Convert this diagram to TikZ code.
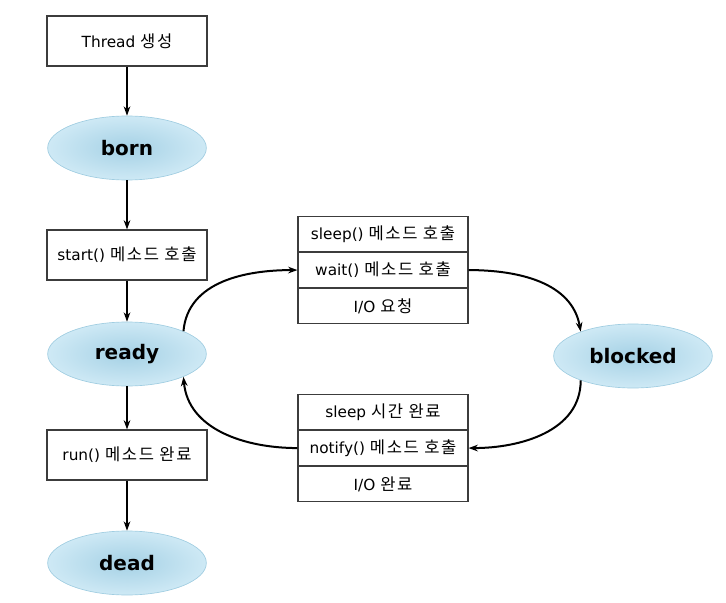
\documentclass[tikz,border=0pt]{standalone}
\usepackage{fontspec}
\setmainfont{DejaVu Sans}
\newfontfamily\kr[Scale=1.08,LetterSpace=10]{Noto Sans CJK KR}
\usetikzlibrary{arrows.meta,positioning,shapes.geometric}
\definecolor{elin}{RGB}{165,209,229}
\definecolor{elout}{RGB}{206,233,245}
\definecolor{elborder}{RGB}{160,205,225}
\definecolor{boxline}{RGB}{60,60,60}
\tikzset{
  txt/.style={font=\fontsize{11.5}{14}\selectfont},
  box/.style={txt,draw=boxline,line width=0.8pt,fill=white,minimum width=120pt,minimum height=37.5pt,inner sep=0pt},
  row/.style={txt,draw=boxline,line width=0.8pt,fill=white,minimum width=127.5pt,minimum height=26.25pt,inner sep=0pt},
  state/.style={ellipse,draw=elborder,line width=0.5pt,inner color=elin,outer color=elout,minimum width=119pt,minimum height=48pt,inner sep=0pt,font=\fontsize{15}{17}\selectfont\bfseries},
  arr/.style={-{Stealth[length=7pt,width=5pt]},line width=1.5pt},
}
\begin{document}
\begin{tikzpicture}[x=0.75pt,y=-0.75pt]
\useasboundingbox (0,0) rectangle (726,603);
\node[box] (thread) at (127,41) {Thread {\kr 생성}};
\node[state] (born) at (127,148) {born};
\node[box] (start) at (127,255) {start() {\kr 메소드 호출}};
\node[state] (ready) at (127,354) {ready};
\node[box] (run) at (127,455) {run() {\kr 메소드 완료}};
\node[state] (dead) at (127,563) {dead};
\node[state] (blocked) at (633,356) {blocked};

\node[row] (sleep) at (383,234) {sleep() {\kr 메소드 호출}};
\node[row,anchor=north] (wait) at (sleep.south) {wait() {\kr 메소드 호출}};
\node[row,anchor=north] (io) at (wait.south) {I/O {\kr 요청}};

\node[row] (stime) at (383,412) {sleep {\kr 시간 완료}};
\node[row,anchor=north] (notify) at (stime.south) {notify() {\kr 메소드 호출}};
\node[row,anchor=north] (iodone) at (notify.south) {I/O {\kr 완료}};

\draw[arr] (thread) -- (born);
\draw[arr] (born) -- (start);
\draw[arr] (start) -- (ready);
\draw[arr] (ready) -- (run);
\draw[arr] (run) -- (dead);

\draw[arr] (ready.22) to[out=85,in=180] (wait.west);
\draw[arr] (wait.east) to[out=0,in=100] (blocked.155);
\draw[arr] (blocked.205) to[out=-90,in=0] (notify.east);
\draw[arr] (notify.west) to[out=180,in=-85] (ready.-22);
\end{tikzpicture}
\end{document}
